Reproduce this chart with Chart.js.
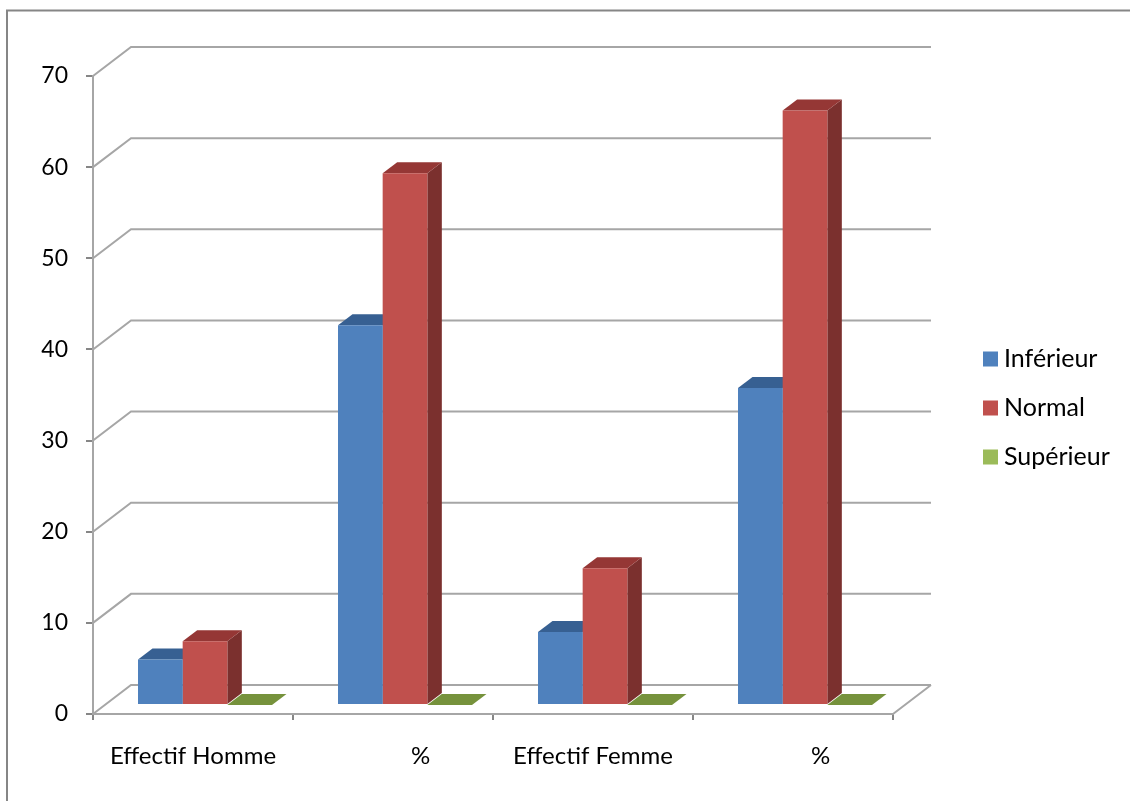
<!DOCTYPE html>
<html>
<head>
<meta charset="utf-8">
<title>Effectifs</title>
<script src="https://cdn.jsdelivr.net/npm/chart.js@4"></script>
<style>
  html, body { margin: 0; background: #fff; }
  canvas { display: block; }
</style>
</head>
<body>
<canvas id="chart" width="1130" height="801"></canvas>
<script>
const categories = ['Effectif Homme', '         %', 'Effectif Femme', '         %'];
const inferieur = [5, 41.67, 8, 34.78];
const normal = [7, 58.33, 15, 65.22];
const superieur = [0, 0, 0, 0];
const yTicks = [0, 10, 20, 30, 40, 50, 60, 70];

const FONT_FAMILY = 'Lato, "Noto Sans", sans-serif';
const GRID = '#a6a6a6';
const TICK = '#868686';

// fake 3D depth: the back wall and the plane the bars stand on
const WALL = { dx: 38, dy: -29 };
const BARS = { dx: 12, dy: -9 };
const DEPTH = { dx: 14.5, dy: -11 };

const faceColors = [
  { top: '#376092', side: '#2f5380' },
  { top: '#953735', side: '#7b302e' },
  { top: '#76923c', side: '#62792f' }
];

function fillPoly(ctx, pts, color) {
  ctx.fillStyle = color;
  ctx.beginPath();
  pts.forEach((p, i) => (i ? ctx.lineTo(p[0], p[1]) : ctx.moveTo(p[0], p[1])));
  ctx.closePath();
  ctx.fill();
}

const box3d = {
  id: 'box3d',
  beforeDraw(chart) {
    // outer frame, open on the right and at the bottom
    const ctx = chart.ctx;
    ctx.save();
    ctx.strokeStyle = TICK;
    ctx.lineWidth = 2;
    ctx.beginPath();
    ctx.moveTo(7, chart.height);
    ctx.lineTo(7, 10.5);
    ctx.lineTo(chart.width, 10.5);
    ctx.stroke();
    ctx.restore();
  },
  beforeDatasetsDraw(chart) {
    const { ctx, chartArea: area, scales: { y } } = chart;
    ctx.save();
    ctx.strokeStyle = GRID;
    ctx.lineWidth = 2;

    yTicks.forEach(v => {
      const py = y.getPixelForValue(v);
      ctx.beginPath();
      ctx.moveTo(area.left, py);
      ctx.lineTo(area.left + WALL.dx, py + WALL.dy);
      ctx.lineTo(area.right + WALL.dx, py + WALL.dy);
      if (v === 0) {
        // right edge of the floor
        ctx.moveTo(area.right, py);
        ctx.lineTo(area.right + WALL.dx, py + WALL.dy);
      }
      ctx.stroke();
    });

    // top and side faces first, the library then paints the fronts over them
    ctx.translate(BARS.dx, BARS.dy);
    chart.data.datasets.forEach((ds, i) => {
      chart.getDatasetMeta(i).data.forEach(bar => {
        const left = bar.x - bar.width / 2;
        const right = bar.x + bar.width / 2;
        const d = DEPTH;
        fillPoly(ctx, [[right, bar.y], [right + d.dx, bar.y + d.dy], [right + d.dx, bar.base + d.dy], [right, bar.base]], faceColors[i].side);
        fillPoly(ctx, [[left, bar.y], [left + d.dx, bar.y + d.dy], [right + d.dx, bar.y + d.dy], [right, bar.y]], faceColors[i].top);
      });
    });
  },
  afterDatasetsDraw(chart) {
    chart.ctx.restore();
  },
  afterLayout(chart) {
    // legend sits in the right margin, beside the plot
    const legend = chart.legend;
    legend.left = 965.5;
    legend.right = chart.width;
    legend.top = 322.5;
    legend.bottom = 520;
  }
};

new Chart(document.getElementById('chart'), {
  type: 'bar',
  data: {
    labels: categories,
    datasets: [
      { label: 'Inférieur', data: inferieur, backgroundColor: '#4f81bd' },
      { label: 'Normal', data: normal, backgroundColor: '#c0504d' },
      { label: 'Supérieur', data: superieur, backgroundColor: '#9bbb59' }
    ]
  },
  plugins: [box3d],
  options: {
    responsive: false,
    animation: false,
    layout: { padding: { left: 0, top: 76, right: 237, bottom: 0 } },
    datasets: { bar: { barPercentage: 1, categoryPercentage: 0.67, clip: false } },
    plugins: {
      tooltip: { enabled: false },
      legend: {
        position: 'chartArea',
        align: 'start',
        labels: {
          color: '#000',
          font: { family: FONT_FAMILY, size: 25 },
          boxWidth: 2,
          boxHeight: 2,
          padding: 24,
          generateLabels(chart) {
            const items = Chart.defaults.plugins.legend.labels.generateLabels(chart);
            return items.map(item => ({ ...item, lineWidth: 13, strokeStyle: item.fillStyle }));
          }
        }
      }
    },
    scales: {
      x: {
        afterFit(scale) { scale.height = 87; },
        border: { color: GRID, width: 2 },
        grid: { drawOnChartArea: false, color: TICK, lineWidth: 2, tickLength: 6 },
        ticks: { color: '#000', font: { family: FONT_FAMILY, size: 24 }, padding: 22, autoSkip: false, maxRotation: 0 }
      },
      y: {
        min: 0,
        max: 70,
        afterFit(scale) { scale.width = 93; },
        afterBuildTicks(scale) { scale.ticks = yTicks.map(value => ({ value })); },
        border: { color: GRID, width: 2 },
        grid: { drawOnChartArea: false, color: TICK, lineWidth: 2, tickLength: 7 },
        ticks: { color: '#000', font: { family: FONT_FAMILY, size: 23 }, padding: 18 }
      }
    }
  }
});
</script>
</body>
</html>
